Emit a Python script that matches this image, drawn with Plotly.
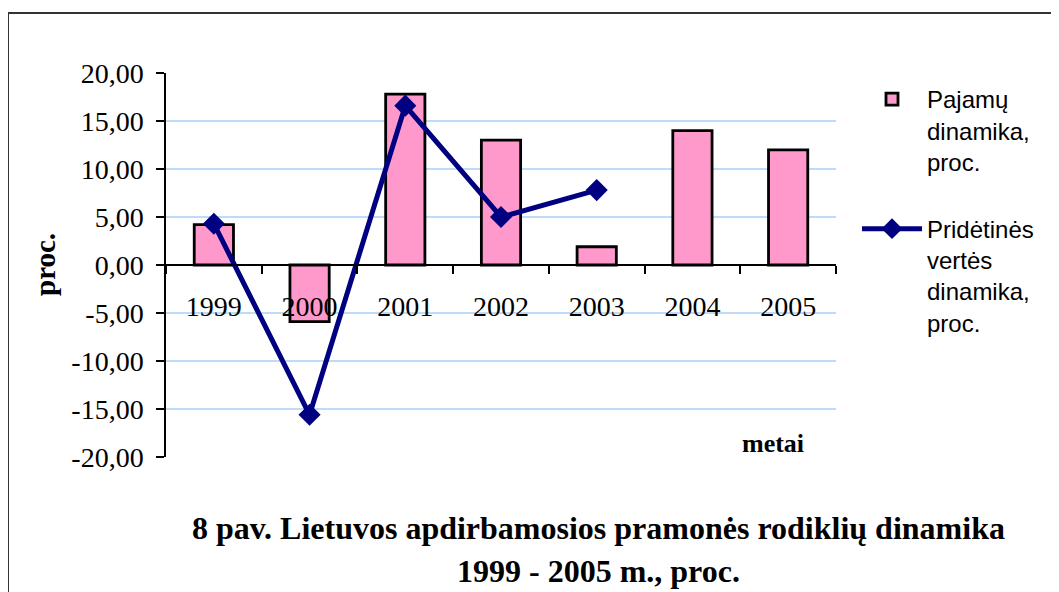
import plotly.graph_objects as go

years = ["1999", "2000", "2001", "2002", "2003", "2004", "2005"]
pajamu = [4.2, -5.9, 17.8, 13.0, 1.9, 14.0, 12.0]
prideines = [4.3, -15.6, 16.6, 5.0, 7.8, None, None]
y_ticks = [20, 15, 10, 5, 0, -5, -10, -15, -20]
grid_vals = [15, 10, 5, -5, -10, -15]
y_ticktext = [f"{v:.2f}".replace(".", ",") for v in y_ticks]

OFF = 8  # page body margin
W, H = 1059 - OFF, 592 - OFF
L, R, T, B = 166, 836, 73, 457  # plot area in screen pixels

def px(x):
    return (x - L) / (R - L)

def py(y):
    return (B - y) / (B - T)

fig = go.Figure()
fig.add_trace(go.Bar(
    x=years, y=pajamu, name="Pajamų<br>dinamika,<br>proc.", legendgroup="g1",
    marker=dict(color="#FF99CC", line=dict(color="#000000", width=2.8)),
))
fig.add_trace(go.Scatter(
    x=years, y=prideines, name="Pridėtinės<br>vertės<br>dinamika,<br>proc.", legendgroup="g2",
    mode="lines+markers", connectgaps=False,
    line=dict(color="#000080", width=5),
    marker=dict(symbol="diamond", size=17, color="#000080"),
))

shapes = []
for g in grid_vals:
    shapes.append(dict(type="line", xref="paper", yref="y", x0=0, x1=1, y0=g, y1=g,
                       line=dict(color="#A8D0F5", width=1.5), layer="below"))
# outer frame (left and top edges)
shapes.append(dict(type="line", xref="paper", yref="paper", x0=px(8), x1=px(8),
                   y0=py(13), y1=py(600), line=dict(color="#333333", width=2)))
shapes.append(dict(type="line", xref="paper", yref="paper", x0=px(8), x1=px(1070),
                   y0=py(13), y1=py(13), line=dict(color="#333333", width=2)))

serif = "Liberation Serif, Times New Roman, serif"
sans = "Liberation Sans, Arial, sans-serif"

annotations = [
    dict(text="<b>proc.</b>", xref="paper", yref="paper", x=px(45), y=py(265),
         textangle=-90, showarrow=False, font=dict(family=serif, size=29, color="black"),
         xanchor="center", yanchor="middle"),
    dict(text="<b>metai</b>", xref="paper", yref="paper", x=px(773), y=py(443),
         showarrow=False, font=dict(family=serif, size=26, color="black"),
         xanchor="center", yanchor="middle"),
    dict(text="<b>8 pav. Lietuvos apdirbamosios pramonės rodiklių dinamika</b>",
         xref="paper", yref="paper", x=px(598), y=py(528), showarrow=False,
         font=dict(family=serif, size=32, color="black"), xanchor="center", yanchor="middle"),
    dict(text="<b>1999 - 2005 m., proc.</b>",
         xref="paper", yref="paper", x=px(598), y=py(571), showarrow=False,
         font=dict(family=serif, size=32, color="black"), xanchor="center", yanchor="middle"),
]

fig.update_layout(
    width=W, height=H,
    margin=dict(l=L - OFF, r=W - (R - OFF), t=T - OFF, b=H - (B - OFF), pad=0),
    paper_bgcolor="white", plot_bgcolor="white",
    bargap=0.59,
    showlegend=True,
    legend=dict(x=px(857), y=py(77), xanchor="left", yanchor="top",
                font=dict(family=sans, size=24, color="black"),
                valign="top", tracegroupgap=33, itemwidth=60,
                traceorder="grouped",
                bgcolor="rgba(0,0,0,0)"),
    shapes=shapes,
    annotations=annotations,
    xaxis=dict(
        type="category", range=[-0.5, 6.5],
        anchor="free", position=0.5,
        showline=True, linecolor="black", linewidth=1.5,
        ticks="outside", tickson="boundaries", ticklen=8, tickcolor="black", tickwidth=1.5,
        ticklabelstandoff=17,
        showgrid=False, zeroline=False,
        tickfont=dict(family=serif, size=28, color="black"),
    ),
    yaxis=dict(
        range=[-20, 20], tickvals=y_ticks, ticktext=y_ticktext,
        showline=True, linecolor="black", linewidth=1.5,
        ticks="outside", ticklen=8, tickcolor="black", tickwidth=1.5,
        ticklabelstandoff=7,
        showgrid=False, zeroline=False,
        tickfont=dict(family=serif, size=28, color="black"),
    ),
)

fig.write_html("out.html")
